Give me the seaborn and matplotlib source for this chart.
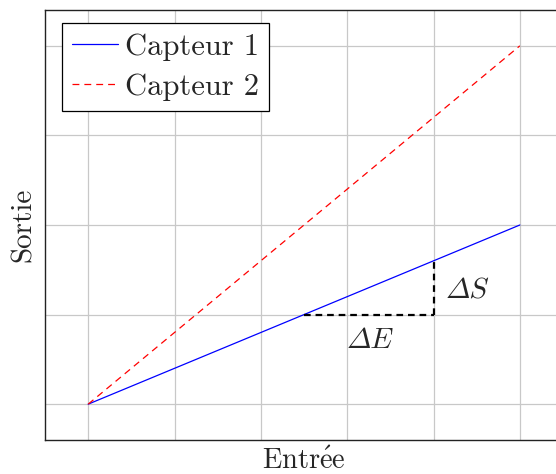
import matplotlib
matplotlib.use("Agg")
import matplotlib.pyplot as plt
from matplotlib.font_manager import FontProperties
import seaborn as sns
import pandas as pd
import numpy as np
import os

# Data
entree = [0, 5]
capteur1 = [0, 2]
capteur2 = [0, 4]
series_names = ["Capteur 1", "Capteur 2"]
tri_h_x = [2.5, 4]
tri_h_y = [1, 1]
tri_v_x = [4, 4]
tri_v_y = [1, 1.6]

sns.set_style("white")
plt.rcParams['font.family'] = ['cmr10', 'DejaVu Serif']
plt.rcParams['mathtext.fontset'] = 'cm'
plt.rcParams['axes.unicode_minus'] = False

df = pd.DataFrame({
    "Entrée": entree * 2,
    "Sortie": capteur1 + capteur2,
    "serie": [series_names[0]] * 2 + [series_names[1]] * 2,
})

fig = plt.figure(figsize=(5.56, 4.74), dpi=100)
ax = fig.add_axes([45/556, 34/474, (563-45)/556, (440-10)/474])

sns.lineplot(data=df, x="Entrée", y="Sortie", hue="serie", style="serie",
             palette={"Capteur 1": "blue", "Capteur 2": "red"},
             dashes={"Capteur 1": "", "Capteur 2": (5.5, 4)},
             linewidth=0.9, ax=ax)

ax.plot(tri_h_x, tri_h_y, color="black", ls=(0, (3, 2.2)), lw=1.6)
ax.plot(tri_v_x, tri_v_y, color="black", ls=(0, (3, 2.2)), lw=1.6)

cmmi = os.path.join(matplotlib.get_data_path(), "fonts", "ttf", "cmmi10.ttf")
fp = FontProperties(fname=cmmi, size=21)
ax.text(3.26, 0.71, "\u00a2E", ha="center", va="center", fontproperties=fp)
ax.text(4.14, 1.26, "\u00a2S", ha="left", va="center", fontproperties=fp)

ax.set_xlim(-0.5, 5.5)
ax.set_ylim(-0.4, 4.4)
ax.set_xticks(np.arange(0, 6, 1))
ax.set_yticks(np.arange(0, 5, 1))
ax.set_xticklabels([])
ax.set_yticklabels([])
ax.tick_params(length=0)
ax.grid(True, color="#c8c8c8", lw=0.9)
ax.set_axisbelow(True)
for s in ax.spines.values():
    s.set_color("#222222")
    s.set_linewidth(1.0)

ax.set_xlabel(r"Entr$\acute{\mathrm{e}}$e", fontsize=20.5, labelpad=2)
ax.set_ylabel("Sortie", fontsize=21, labelpad=2)

leg = ax.legend(loc="upper left", fontsize=22, frameon=True, fancybox=False,
                edgecolor="black", framealpha=1, handlelength=1.5,
                borderpad=0.33, labelspacing=0.42, handletextpad=0.23,
                borderaxespad=0.0,
                bbox_to_anchor=(17/518, 1 - 13/430))
leg.get_frame().set_linewidth(0.9)
leg.set_title(None)

fig.savefig("out.png", dpi=100)
